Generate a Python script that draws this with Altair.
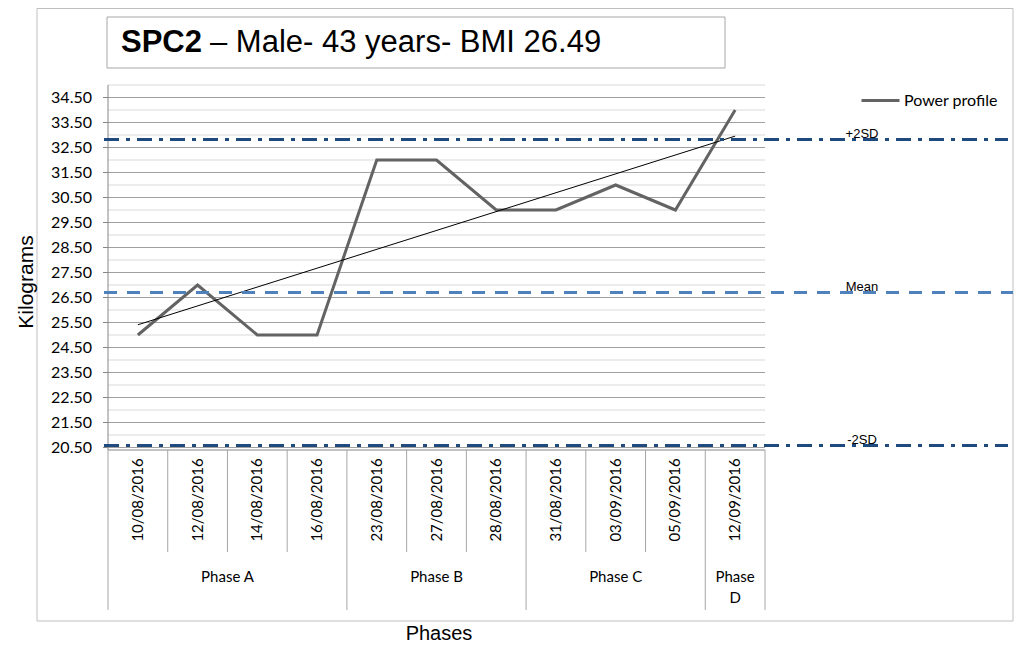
import altair as alt
import pandas as pd

# ---- data ----
dates = ["10/08/2016", "12/08/2016", "14/08/2016", "16/08/2016", "23/08/2016",
         "27/08/2016", "28/08/2016", "31/08/2016", "03/09/2016", "05/09/2016",
         "12/09/2016"]
power = [25, 27, 25, 25, 32, 32, 30, 30, 31, 30, 34]
series_name = "Power profile"

phase_names = ["Phase A", "Phase B", "Phase C", "Phase\nD"]
phase_sizes = [4, 3, 3, 1]

ref_labels = ["+2SD", "Mean", "-2SD"]
ref_values = [32.82, 26.70, 20.58]

major_ticks = [20.5, 21.5, 22.5, 23.5, 24.5, 25.5, 26.5, 27.5, 28.5, 29.5,
               30.5, 31.5, 32.5, 33.5, 34.5]
minor_ticks = [21.0, 22.0, 23.0, 24.0, 25.0, 26.0, 27.0, 28.0, 29.0, 30.0,
               31.0, 32.0, 33.0, 34.0, 35.0]
y_domain = [20.4, 35.0]

title_bold = "SPC2"
title_rest = "– Male- 43 years- BMI 26.49"
y_title = "Kilograms"
x_title_text = "Phases"

# ---- tables built from the arrays ----
n = len(dates)
df = pd.DataFrame({
    "idx": [i + 0.5 for i in range(n)],
    "date": dates,
    "power": power,
    "series": [series_name] * n,
})

starts, ends = [], []
acc = 0
for s in phase_sizes:
    starts.append(acc)
    acc += s
    ends.append(acc)
phases = pd.DataFrame({"phase": phase_names, "start": starts, "end": ends})
phase_bounds = sorted(set(starts + ends))
short_bounds = [b for b in range(1, n) if b not in phase_bounds]
df_short = pd.DataFrame({"b": short_bounds})
df_long = pd.DataFrame({"b": phase_bounds})
df_axis = pd.DataFrame({"x0": [0], "x1": [n]})
df_major = pd.DataFrame({"v": major_ticks, "x0": 0, "x1": n})
df_minor = pd.DataFrame({"v": minor_ticks, "x0": 0, "x1": n})
df_ydom = pd.DataFrame({"lo": [y_domain[0]], "hi": [y_domain[1]]})
refs = pd.DataFrame({"label": ref_labels, "value": ref_values})
one = pd.DataFrame({"a": [0]})

xscale = alt.Scale(domain=[0, n], nice=False, zero=False)
yscale = alt.Scale(domain=y_domain, nice=False, zero=False)

NAVY = "#1f4a7e"
BLUE = "#4f81bd"
LINEGRAY = "#a6a6a6"
AXISGRAY = "#868686"

# frame around the whole chart
frame = alt.Chart(one).mark_rect(fill="white", fillOpacity=0, stroke="#bfbfbf",
                                 strokeWidth=1).encode(
    x=alt.value(-71), x2=alt.value(905), y=alt.value(-76.5), y2=alt.value(536))

title_box = alt.Chart(one).mark_rect(fill="white", stroke="#a6a6a6", strokeWidth=1).encode(
    x=alt.value(-1), x2=alt.value(617), y=alt.value(-68), y2=alt.value(-17))

title1 = alt.Chart(one).mark_text(
    text=title_bold, font="Liberation Sans", fontSize=31, fontWeight="bold",
    align="left", baseline="alphabetic", color="black").encode(
    x=alt.value(13), y=alt.value(-33))
title2 = alt.Chart(one).mark_text(
    text=title_rest, font="Liberation Sans", fontSize=31, fontWeight="normal",
    align="left", baseline="alphabetic", color="black").encode(
    x=alt.value(102), y=alt.value(-33))

# y axis drawn from the tick arrays through the y scale
minor_grid = alt.Chart(df_minor).mark_rule(color="#d9d9d9", strokeWidth=1).encode(
    x=alt.X("x0:Q", scale=xscale, axis=None), x2="x1:Q",
    y=alt.Y("v:Q", scale=yscale, axis=None))
major_grid = alt.Chart(df_major).mark_rule(color="#a0a0a0", strokeWidth=1).encode(
    x=alt.X("x0:Q", scale=xscale, axis=None), x2="x1:Q",
    y=alt.Y("v:Q", scale=yscale, axis=None))
major_ticks_m = alt.Chart(df_major).mark_rule(color=AXISGRAY, strokeWidth=1).encode(
    x=alt.value(-5), x2=alt.value(0),
    y=alt.Y("v:Q", scale=yscale, axis=None))
y_labels = alt.Chart(df_major).transform_calculate(
    lbl="format(datum.v, '.2f')").mark_text(
    font="Lato", fontSize=16, color="black", align="right", baseline="middle").encode(
    x=alt.value(-16), y=alt.Y("v:Q", scale=yscale, axis=None), text="lbl:N")
y_domain_line = alt.Chart(df_ydom).mark_rule(color=AXISGRAY, strokeWidth=1).encode(
    x=alt.value(0), y=alt.Y("lo:Q", scale=yscale, axis=None), y2="hi:Q")
y_title_m = alt.Chart(one).mark_text(
    text=y_title, font="Liberation Sans", fontSize=21, color="black",
    angle=270, align="center", baseline="middle").encode(
    x=alt.value(-81), y=alt.value(197))

main_line = alt.Chart(df).mark_line(strokeWidth=3).encode(
    x=alt.X("idx:Q", scale=xscale, axis=None),
    y=alt.Y("power:Q", scale=yscale, axis=None),
    color=alt.Color("series:N", scale=alt.Scale(range=["#636363"]),
                    legend=alt.Legend(orient="none", legendX=752, legendY=-5,
                                      title=None, padding=0, symbolType="stroke",
                                      symbolSize=1444, symbolStrokeWidth=3,
                                      labelFont="Lato", labelFontSize=16,
                                      labelColor="black", labelOffset=3)),
)

trend = alt.Chart(df).transform_regression("idx", "power").mark_line(
    color="black", strokeWidth=1).encode(
    x=alt.X("idx:Q", scale=xscale, axis=None),
    y=alt.Y("power:Q", scale=yscale, axis=None))

sd_rules = alt.Chart(refs).transform_filter("datum.label != 'Mean'").mark_rule(
    color=NAVY, strokeWidth=3, strokeDash=[15, 7, 4, 7]).encode(
    x=alt.value(-4), x2=alt.value(900),
    y=alt.Y("value:Q", scale=yscale, axis=None))
mean_rule = alt.Chart(refs).transform_filter("datum.label == 'Mean'").mark_rule(
    color=BLUE, strokeWidth=3, strokeDash=[13, 10]).encode(
    x=alt.value(-4), x2=alt.value(905),
    y=alt.Y("value:Q", scale=yscale, axis=None))
ref_text = alt.Chart(refs).mark_text(
    font="Liberation Sans", fontSize=13, color="black", align="center",
    baseline="alphabetic", dy=-2).encode(
    x=alt.value(754), y=alt.Y("value:Q", scale=yscale, axis=None),
    text="label:N")

# category table under the plot
x_axis_line = alt.Chart(df_axis).mark_rule(color=AXISGRAY, strokeWidth=1).encode(
    x=alt.X("x0:Q", scale=xscale, axis=None), x2="x1:Q", y=alt.value(365))
short_sep = alt.Chart(df_short).mark_rule(color=LINEGRAY, strokeWidth=1).encode(
    x=alt.X("b:Q", scale=xscale, axis=None), y=alt.value(365), y2=alt.value(467))
long_sep = alt.Chart(df_long).mark_rule(color=LINEGRAY, strokeWidth=1).encode(
    x=alt.X("b:Q", scale=xscale, axis=None), y=alt.value(365), y2=alt.value(525))
date_text = alt.Chart(df).mark_text(
    angle=270, font="Lato", fontSize=15, color="black", align="center",
    baseline="middle").encode(
    x=alt.X("idx:Q", scale=xscale, axis=None), y=alt.value(415), text="date:N")
phase_text = alt.Chart(phases).transform_calculate(
    mid="(datum.start + datum.end) / 2").mark_text(
    font="Lato", fontSize=15, color="black", align="center", baseline="top",
    lineBreak="\n", lineHeight=21).encode(
    x=alt.X("mid:Q", scale=xscale, axis=None), y=alt.value(485), text="phase:N")
x_title = alt.Chart(one).mark_text(
    text=x_title_text, font="Liberation Sans", fontSize=20, color="black",
    align="center", baseline="alphabetic").encode(
    x=alt.value(331), y=alt.value(555))

chart = alt.layer(
    frame, title_box, title1, title2,
    minor_grid, major_grid, major_ticks_m, y_labels, y_domain_line, y_title_m,
    main_line, trend, sd_rules, mean_rule, ref_text,
    x_axis_line, short_sep, long_sep, date_text, phase_text, x_title,
).properties(
    width=657, height=365,
    autosize=alt.AutoSizeParams(type="none"),
    padding={"left": 100, "top": 77, "right": 249, "bottom": 196},
    background="white",
).configure_view(stroke=None)

chart.save("out.html", embed_options={"renderer": "svg", "actions": False})
